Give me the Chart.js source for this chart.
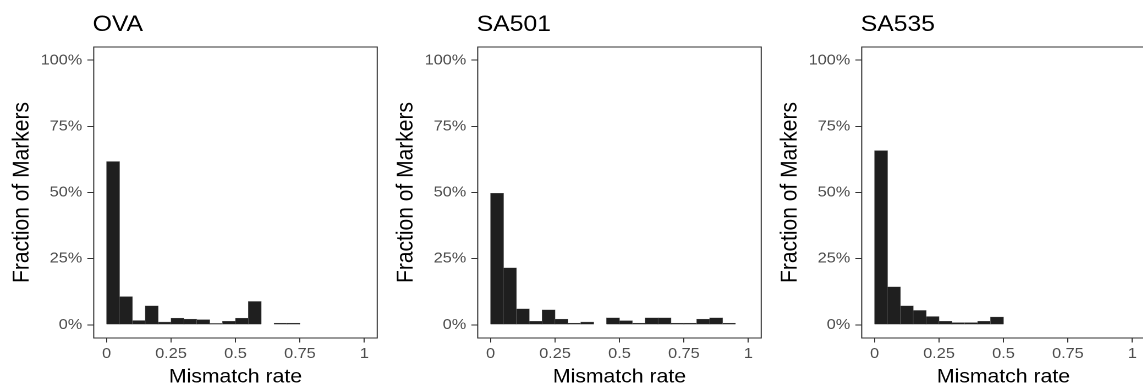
<!DOCTYPE html>
<html>
<head>
<meta charset="utf-8">
<script src="https://cdn.jsdelivr.net/npm/chart.js@4.4.0/dist/chart.umd.min.js"></script>
<style>
  html, body { margin: 0; padding: 0; background: #fff; width: 1143px; height: 392px; overflow: hidden; }
  .panel { position: absolute; top: 0; width: 349px; height: 392px; transform: scaleX(1.1); transform-origin: 0 0; }
</style>
</head>
<body>
<div class="panel" style="left:0px"><canvas id="ova" width="349" height="392"></canvas></div>
<div class="panel" style="left:384px"><canvas id="sa501" width="349" height="392"></canvas></div>
<div class="panel" style="left:768px"><canvas id="sa535" width="349" height="392"></canvas></div>
<script>
// bin centres of the 0.05-wide mismatch-rate bins
const binCenters = [0.025, 0.075, 0.125, 0.175, 0.225, 0.275, 0.325, 0.375, 0.425, 0.475,
                    0.525, 0.575, 0.625, 0.675, 0.725, 0.775, 0.825, 0.875, 0.925, 0.975];

// fraction of markers (%) per bin, null = empty bin
const ovaValues   = [61.7, 10.6, 1.6, 7.1, 1.0, 2.5, 2.1, 1.9, 0.5, 1.3,
                     2.5, 8.8, null, 0.6, 0.6, null, null, null, null, null];
const sa501Values = [49.7, 21.5, 6.0, 1.3, 5.6, 2.1, 0.6, 1.0, null, 2.6,
                     1.5, 0.6, 2.6, 2.6, 0.6, 0.6, 2.1, 2.6, 0.6, null];
const sa535Values = [65.8, 14.3, 7.1, 5.4, 3.1, 1.3, 0.8, 0.8, 1.3, 2.9,
                     null, null, null, null, null, null, null, null, null, null];

const xTicks = [0, 0.25, 0.5, 0.75, 1];
const xTickLabels = ['0', '0.25', '0.5', '0.75', '1'];
const yTicks = [0, 25, 50, 75, 100];

const FONT = '"Liberation Sans", Arial, Helvetica, sans-serif';

const panelDecor = {
  id: 'panelDecor',
  afterDraw(chart, args, opts) {
    const { ctx, chartArea: a } = chart;
    ctx.save();
    ctx.strokeStyle = '#333333';
    ctx.lineWidth = 1;
    ctx.strokeRect(a.left, a.top, a.right - a.left, a.bottom - a.top);
    ctx.fillStyle = '#000000';
    ctx.font = '22.5px ' + FONT;
    ctx.textAlign = 'left';
    ctx.textBaseline = 'alphabetic';
    ctx.fillText(opts.text, a.left - 1, 31);
    ctx.restore();
  }
};

function makePanel(canvasId, title, values) {
  const ctx = document.getElementById(canvasId).getContext('2d');
  return new Chart(ctx, {
    type: 'bar',
    data: {
      datasets: [{
        data: binCenters.map((x, i) => ({ x, y: values[i] })),
        backgroundColor: '#1f1f1f',
        borderColor: '#6a6a6a',
        borderWidth: 0.4,
        barPercentage: 1,
        categoryPercentage: 1
      }]
    },
    plugins: [panelDecor],
    options: {
      responsive: false,
      devicePixelRatio: 2,
      animation: false,
      events: [],
      layout: { padding: { top: 47, left: 0, right: 6.1, bottom: 0 } },
      plugins: {
        legend: { display: false },
        tooltip: { enabled: false },
        panelDecor: { text: title }
      },
      scales: {
        x: {
          type: 'linear',
          min: -0.05, max: 1.05,
          offset: false,
          afterFit: s => { s.height = 54; },
          afterBuildTicks: s => { s.ticks = xTicks.map(v => ({ value: v })); },
          ticks: {
            color: '#4d4d4d', padding: 2.5, maxRotation: 0, autoSkip: false,
            font: { size: 14.8, family: FONT },
            callback: (v) => xTickLabels[xTicks.indexOf(v)]
          },
          grid: { display: true, drawOnChartArea: false, drawTicks: true, tickLength: 4.5, tickColor: '#333333', offset: false },
          border: { display: false },
          title: { display: true, text: 'Mismatch rate', color: '#000', font: { size: 19.3, family: FONT }, padding: { top: 0, bottom: 3 } }
        },
        y: {
          min: -5, max: 105,
          afterFit: s => { s.width = 85.2; },
          afterBuildTicks: s => { s.ticks = yTicks.map(v => ({ value: v })); },
          ticks: {
            color: '#4d4d4d', padding: 4.6,
            font: { size: 14.8, family: FONT },
            callback: v => v + '%'
          },
          grid: { display: true, drawOnChartArea: false, drawTicks: true, tickLength: 5.8, tickColor: '#333333' },
          border: { display: false },
          title: { display: true, text: 'Fraction of Markers', color: '#000', font: { size: 21, family: FONT }, padding: { top: 7.4, bottom: 0 } }
        }
      }
    }
  });
}

makePanel('ova', 'OVA', ovaValues);
makePanel('sa501', 'SA501', sa501Values);
makePanel('sa535', 'SA535', sa535Values);
</script>
</body>
</html>
